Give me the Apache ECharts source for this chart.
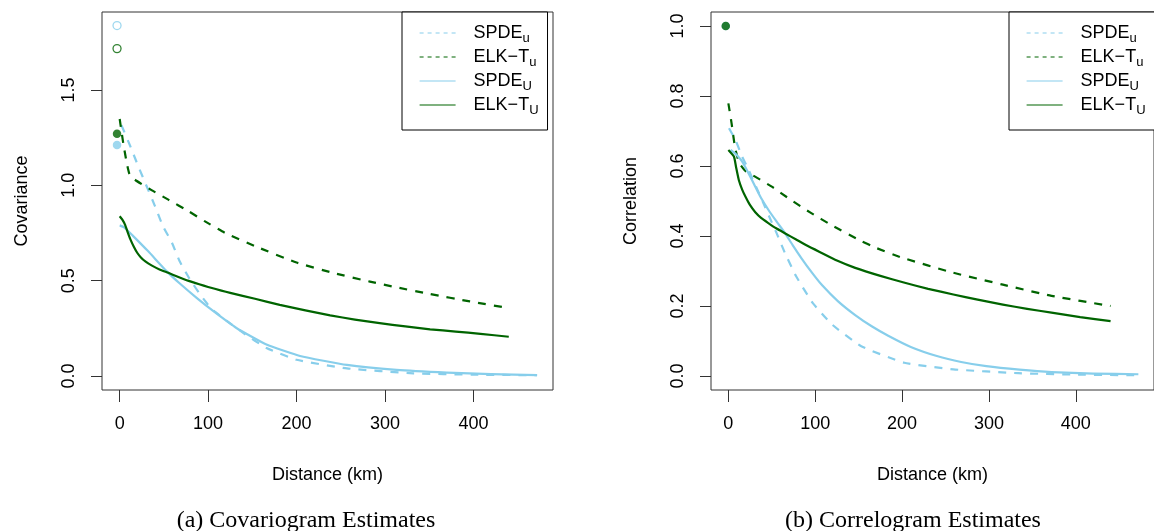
<!DOCTYPE html>
<html><head><meta charset="utf-8">
<script src="https://cdn.jsdelivr.net/npm/echarts@6/dist/echarts.min.js"></script>
<style>html,body{margin:0;padding:0;background:#fff}#c{width:1154px;height:531px}</style>
</head><body><div id="c"></div><script>
// ---------- data ----------
const xTicks = [0, 100, 200, 300, 400];
const covTicks = [0, 0.5, 1.0, 1.5];
const corTicks = [0, 0.2, 0.4, 0.6, 0.8, 1.0];
const seriesNames = ['SPDEu', 'ELKu', 'SPDEU', 'ELKU'];

// Covariogram (left)
const covDist_SPDEu = [2, 12, 21, 30.5, 40, 49, 59, 68, 79.5, 91, 100, 108, 119, 140, 166, 200, 257, 332, 400, 472];
const covVal_SPDEu  = [1.315, 1.205, 1.10, 0.995, 0.89, 0.785, 0.70, 0.60, 0.506, 0.428, 0.374, 0.336, 0.297, 0.225, 0.147, 0.085, 0.04, 0.014, 0.007, 0.004];
const covDist_ELKu  = [0, 4, 8, 11, 17, 36, 55, 78, 96, 119, 153, 200, 242, 283, 313, 351, 396, 440];
const covVal_ELKu   = [1.348, 1.222, 1.117, 1.06, 1.03, 0.975, 0.925, 0.864, 0.812, 0.751, 0.681, 0.595, 0.54, 0.495, 0.465, 0.43, 0.391, 0.356];
const covDist_SPDEU = [0, 5, 15, 32, 53, 68, 87, 106, 132, 166, 204, 257, 313, 370, 420, 472];
const covVal_SPDEU  = [0.79, 0.78, 0.735, 0.655, 0.55, 0.485, 0.41, 0.34, 0.252, 0.165, 0.105, 0.058, 0.032, 0.018, 0.01, 0.005];
const covDist_ELKU  = [0, 3, 6, 9, 12, 16, 20, 24, 29, 36, 45, 55, 65, 78, 90, 100, 115, 125, 153, 181, 210, 238, 266, 294, 323, 351, 380, 408, 440];
const covVal_ELKU   = [0.838, 0.82, 0.794, 0.755, 0.718, 0.678, 0.645, 0.622, 0.601, 0.58, 0.559, 0.541, 0.522, 0.499, 0.481, 0.467, 0.448, 0.436, 0.405, 0.373, 0.344, 0.318, 0.296, 0.277, 0.26, 0.245, 0.233, 0.221, 0.206];
const covEmpDist = [-3, -3];
const covEmpOpen = [1.838, 1.717];   // SPDE, ELK-T (open circles)
const covEmpFill = [1.211, 1.271];   // SPDE, ELK-T (filled circles)

// Correlogram (right)
const corDist_SPDEu = [0.7, 8.3, 15.8, 23.3, 32, 40.3, 48, 55.4, 65, 78, 97, 119.5, 153, 202.5, 259, 334, 400, 472];
const corVal_SPDEu  = [0.708, 0.674, 0.627, 0.589, 0.54, 0.494, 0.45, 0.409, 0.352, 0.285, 0.209, 0.147, 0.085, 0.038, 0.019, 0.008, 0.004, 0.002];
const corDist_ELKu  = [0, 3.7, 7.5, 11, 14, 20, 27, 50, 72, 95, 118, 152, 170, 200, 259, 316, 372, 440];
const corVal_ELKu   = [0.779, 0.722, 0.655, 0.62, 0.603, 0.585, 0.575, 0.541, 0.503, 0.466, 0.432, 0.387, 0.366, 0.338, 0.295, 0.261, 0.229, 0.2];
const corDist_SPDEU = [2.6, 9, 15.8, 23, 31, 38, 46, 55, 65, 74, 84, 96, 108, 126, 146, 165, 184, 210, 240, 268, 297, 335, 372, 420, 472];
const corVal_SPDEU  = [0.646, 0.633, 0.613, 0.58, 0.541, 0.507, 0.475, 0.443, 0.409, 0.374, 0.337, 0.296, 0.259, 0.214, 0.174, 0.142, 0.115, 0.083, 0.057, 0.04, 0.028, 0.018, 0.011, 0.007, 0.005];
const corDist_ELKU  = [0, 6.4, 9, 12, 16, 19.6, 25, 31, 38, 46, 55, 65, 78, 91, 108, 125, 146, 175, 202, 230, 259, 287, 316, 344, 372, 405, 440];
const corVal_ELKU   = [0.646, 0.627, 0.595, 0.56, 0.532, 0.513, 0.488, 0.468, 0.451, 0.437, 0.422, 0.408, 0.39, 0.372, 0.351, 0.33, 0.309, 0.286, 0.267, 0.249, 0.233, 0.218, 0.204, 0.192, 0.181, 0.168, 0.157];
const corEmpDist = [-3, -3];
const corEmpFill = [1.0, 1.0];       // SPDE, ELK-T

// ---------- styling ----------
const SKY = '#87CEEB', DG = '#006400';
const FONT = '"Liberation Sans", Arial, Helvetica, sans-serif';
const zip = (a, b) => a.map((v, i) => [v, b[i]]);
const styleOf = {
  SPDEu: {color: SKY, dash: [8, 8]},
  ELKu:  {color: DG,  dash: [8, 8]},
  SPDEU: {color: SKY, dash: 'solid'},
  ELKU:  {color: DG,  dash: 'solid'}
};
const labelOf = {
  SPDEu: '{m|SPDE}{s|u}', ELKu: '{m|ELK\u2212T}{s|u}',
  SPDEU: '{m|SPDE}{s|U}', ELKU: '{m|ELK\u2212T}{s|U}'
};

function lineSeries(name, xs, ys, idx) {
  const st = styleOf[name];
  return {
    type: 'line', name, xAxisIndex: idx, yAxisIndex: idx,
    data: zip(xs, ys), symbol: 'none', smooth: 0.15,
    lineStyle: {color: st.color, width: 2.2, type: st.dash, cap: 'butt', join: 'round'},
    itemStyle: {color: st.color}, z: 3, silent: true, animation: false
  };
}
function pointSeries(xs, ys, color, open, idx) {
  return {
    type: 'scatter', xAxisIndex: idx, yAxisIndex: idx, data: zip(xs, ys).map((p, i) => ({value: p, itemStyle: {color: open ? '#fff' : color[i], borderColor: color[i], borderWidth: open ? 1.3 : 0}})),
    symbol: 'circle', symbolSize: open ? 8 : 8.5, z: 4, silent: true, animation: false
  };
}

function xAxis(idx) {
  return {
    type: 'value', gridIndex: idx, min: -20, max: 490, position: 'bottom',
    name: 'Distance (km)', nameLocation: 'middle', nameGap: 76,
    nameTextStyle: {fontFamily: FONT, fontSize: 18, color: '#000'},
    axisLine: {show: false, onZero: false}, splitLine: {show: false},
    axisTick: {show: true, inside: false, length: 12, customValues: xTicks, lineStyle: {color: '#333', width: 1}},
    axisLabel: {customValues: xTicks, margin: 25, fontFamily: FONT, fontSize: 18, color: '#000'}
  };
}
function yAxis(idx, min, max, ticks, name) {
  return {
    type: 'value', gridIndex: idx, min, max, position: 'left',
    name, nameLocation: 'middle', nameGap: 71,
    nameTextStyle: {fontFamily: FONT, fontSize: 18, color: '#000'},
    axisLine: {show: false, onZero: false}, splitLine: {show: false},
    axisTick: {show: true, inside: false, length: 11, customValues: ticks, lineStyle: {color: '#333', width: 1}},
    axisLabel: {customValues: ticks, rotate: 90, margin: 24, fontFamily: FONT, fontSize: 18, color: '#000',
      formatter: v => v.toFixed(1)}
  };
}
function legend(left) {
  return {
    left, top: 12, orient: 'vertical', itemWidth: 36, itemHeight: 14, itemGap: 3,
    padding: [12, 9, 13, 17], borderColor: '#000', borderWidth: 1, backgroundColor: '#fff',
    selectedMode: false,
    data: seriesNames.map(n => ({name: n, itemStyle: {opacity: 0},
      lineStyle: {width: 1.2, opacity: 1, type: styleOf[n].dash === 'solid' ? 'solid' : [4, 4]}})),
    formatter: n => labelOf[n],
    textStyle: {fontFamily: FONT, fontSize: 18, color: '#000', width: 71, padding: [0, 0, 0, 13],
      rich: {
        m: {fontFamily: FONT, fontSize: 18, lineHeight: 18, verticalAlign: 'top', color: '#000'},
        s: {fontFamily: FONT, fontSize: 13, lineHeight: 13, verticalAlign: 'top', padding: [8, 0, 0, 0], color: '#000'}
      }}
  };
}

const option = {
  backgroundColor: '#fff', animation: false,
  grid: [
    {left: 102, top: 12, width: 451, height: 378, show: true, borderColor: '#333', borderWidth: 1, backgroundColor: 'transparent'},
    {left: 711, top: 12, width: 451, height: 378, show: true, borderColor: '#333', borderWidth: 1, backgroundColor: 'transparent'}
  ],
  xAxis: [xAxis(0), xAxis(1)],
  yAxis: [yAxis(0, -0.0734, 1.909, covTicks, 'Covariance'), yAxis(1, -0.04, 1.04, corTicks, 'Correlation')],
  legend: [legend(402), legend(1009)],
  series: [
    pointSeries(covEmpDist, covEmpOpen, [SKY, DG], true, 0),
    pointSeries(covEmpDist, covEmpFill, [SKY, DG], false, 0),
    lineSeries('SPDEu', covDist_SPDEu, covVal_SPDEu, 0),
    lineSeries('ELKu', covDist_ELKu, covVal_ELKu, 0),
    lineSeries('SPDEU', covDist_SPDEU, covVal_SPDEU, 0),
    lineSeries('ELKU', covDist_ELKU, covVal_ELKU, 0),
    pointSeries(corEmpDist, corEmpFill, [SKY, DG], false, 1),
    lineSeries('SPDEu', corDist_SPDEu, corVal_SPDEu, 1),
    lineSeries('ELKu', corDist_ELKu, corVal_ELKu, 1),
    lineSeries('SPDEU', corDist_SPDEU, corVal_SPDEU, 1),
    lineSeries('ELKU', corDist_ELKU, corVal_ELKU, 1)
  ],
  graphic: [
    {type: 'text', x: 306, y: 521, style: {text: '(a) Covariogram Estimates', fontFamily: '"Liberation Serif", "DejaVu Serif", serif', fontSize: 24, fill: '#000', align: 'center', verticalAlign: 'middle'}},
    {type: 'text', x: 913, y: 521, style: {text: '(b) Correlogram Estimates', fontFamily: '"Liberation Serif", "DejaVu Serif", serif', fontSize: 24, fill: '#000', align: 'center', verticalAlign: 'middle'}}
  ]
};
const chart = echarts.init(document.getElementById('c'), null, {renderer: 'canvas'});
chart.setOption(option);
</script></body></html>
